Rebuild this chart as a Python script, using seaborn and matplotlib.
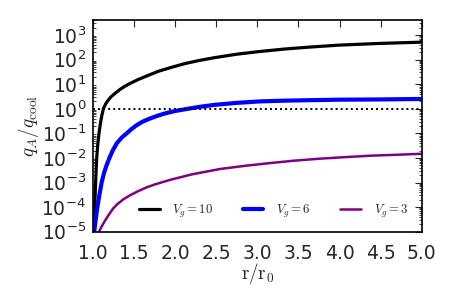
import numpy as np
import pandas as pd
import matplotlib
matplotlib.use("Agg")
import matplotlib.pyplot as plt
import seaborn as sns
from matplotlib.ticker import LogLocator, NullFormatter

# ---- data (y given as log10 of q_A/q_cool) ----
r_v10 = [1.008, 1.014, 1.02, 1.026, 1.032, 1.038, 1.045, 1.058, 1.073, 1.09, 1.107, 1.126,
         1.15, 1.18, 1.22, 1.27, 1.33, 1.39, 1.45, 1.55, 1.65, 1.8, 1.95, 2.12, 2.3, 2.48,
         2.75, 3.03, 3.33, 3.64, 4.0, 4.5, 5.0]
log_v10 = [-5.0, -4.5, -4.0, -3.5, -3.0, -2.5, -2.0, -1.45, -1.0, -0.6, -0.28, 0.0,
           0.17, 0.33, 0.49, 0.63, 0.79, 0.92, 1.03, 1.19, 1.33, 1.53, 1.68, 1.84, 1.97, 2.08,
           2.22, 2.33, 2.43, 2.51, 2.59, 2.66, 2.71]

r_v6 = [1.015, 1.033, 1.053, 1.078, 1.105, 1.135, 1.165, 1.2, 1.24, 1.29, 1.35, 1.41, 1.47,
        1.53, 1.6, 1.69, 1.78, 1.875, 2.0, 2.12, 2.3, 2.48, 2.75, 3.03, 3.33, 3.64, 4.0,
        4.5, 5.0]
log_v6 = [-5.0, -4.5, -4.0, -3.5, -3.0, -2.6, -2.3, -2.0, -1.7, -1.4, -1.17, -1.0, -0.82,
          -0.67, -0.53, -0.4, -0.29, -0.19, -0.09, -0.02, 0.08, 0.16, 0.24, 0.3, 0.33, 0.35,
          0.37, 0.38, 0.4]

r_v3 = [1.073, 1.1, 1.146, 1.2, 1.247, 1.3, 1.37, 1.45, 1.55, 1.65, 1.75, 1.94, 2.2, 2.545,
        2.85, 3.15, 3.45, 3.76, 4.05, 4.37, 4.7, 5.0]
log_v3 = [-5.0, -4.82, -4.55, -4.27, -4.05, -3.87, -3.68, -3.52, -3.35, -3.2, -3.08, -2.89,
          -2.67, -2.45, -2.32, -2.21, -2.11, -2.03, -1.97, -1.91, -1.87, -1.83]

labels = [r"$V_g=10$", r"$V_g=6$", r"$V_g=3$"]
colors = ["#000000", "#0000ff", "#800080"]
widths = [2.3, 3.0, 1.8]

x_ticks = [1.0, 1.5, 2.0, 2.5, 3.0, 3.5, 4.0, 4.5, 5.0]

sns.set_style("white")
plt.rcParams["mathtext.fontset"] = "cm"
plt.rcParams["font.family"] = ["DejaVu Sans"]

fig = plt.figure(figsize=(4.58, 3.05), dpi=100)
ax = fig.add_axes([93 / 458, 1 - 231.7 / 305, (421.7 - 93) / 458, (231.7 - 19.7) / 305])

series = [(r_v10, log_v10), (r_v6, log_v6), (r_v3, log_v3)]
for (rr, ll), lab, col, lw in zip(series, labels, colors, widths):
    df = pd.DataFrame({"r": rr, "q": np.power(10.0, ll)})
    sns.lineplot(data=df, x="r", y="q", ax=ax, color=col, lw=lw, label=lab,
                 estimator=None, sort=True)

ax.axhline(1.0, color="black", lw=1.4, ls=(0, (1, 1.6)))

ax.set_yscale("log")
ax.set_xlim(1.0, 5.0)
ax.set_ylim(1e-5, 4.2e3)
ax.set_xticks(x_ticks)
ax.set_xticklabels([f"{t:.1f}" for t in x_ticks])
ax.yaxis.set_major_locator(LogLocator(base=10, numticks=20))
ax.yaxis.set_minor_locator(LogLocator(base=10, subs=np.arange(2, 10), numticks=20))
ax.yaxis.set_minor_formatter(NullFormatter())

ax.tick_params(axis="both", which="major", direction="in", length=5, width=0.8,
               top=True, right=True, labelsize=13.5)
ax.tick_params(axis="x", which="major", pad=8.5)
ax.tick_params(axis="y", which="major", pad=5)
ax.tick_params(axis="y", which="minor", direction="in", length=2.5, width=0.6,
               left=True, right=True)
for s in ax.spines.values():
    s.set_linewidth(1.2)
    s.set_color("black")

ax.set_xlabel(r"$\rm r/r_0$", fontsize=13.7, labelpad=-1)
ax.set_ylabel(r"$q_A/q_{\rm cool}$", fontsize=13.7, labelpad=0)

ax.legend(loc="center", bbox_to_anchor=(0.55, 0.096), ncol=3, frameon=False,
          fontsize=9.2, handlelength=1.6, handletextpad=1.0, columnspacing=2.3)

fig.savefig("out.png", dpi=100)
